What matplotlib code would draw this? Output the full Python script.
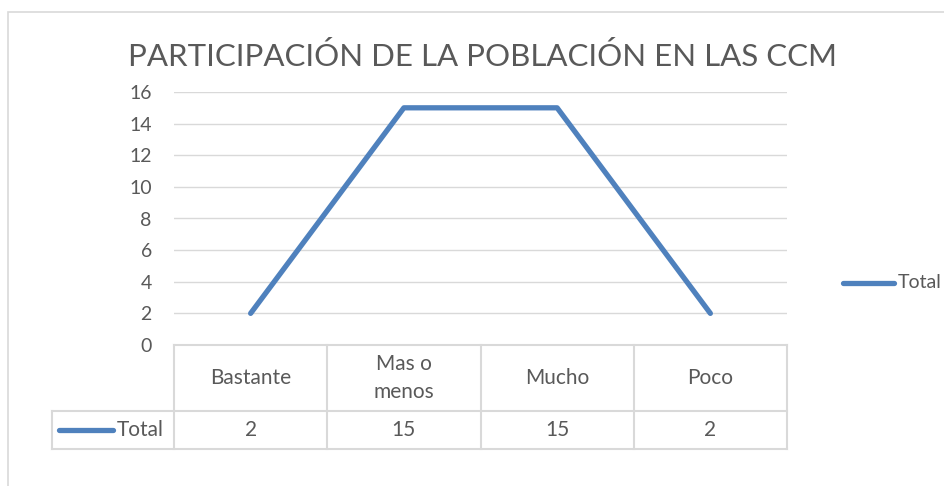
import numpy as np
import matplotlib.pyplot as plt
from matplotlib.lines import Line2D
from matplotlib.patches import Rectangle

# data
categories = ['Bastante', 'Mas o\nmenos', 'Mucho', 'Poco']
values = [2, 15, 15, 2]
series_name = 'Total'
title = 'PARTICIPACIÓN DE LA POBLACIÓN EN LAS CCM'
yticks = np.arange(0, 17, 2)

W, H = 945, 486
line_color = '#4F81BD'
grid_color = '#D9D9D9'
text_color = '#595959'
plt.rcParams['font.family'] = ['Lato', 'DejaVu Sans']

fig = plt.figure(figsize=(W / 100, H / 100), dpi=100)
fig.patch.set_facecolor('white')


def fx(x):
    return x / W


def fy(y):
    return 1 - y / H


# chart frame
fig.patches.append(Rectangle((fx(8), fy(490)), fx(960), 478 / H, transform=fig.transFigure,
                             fill=False, ec='#D9D9D9', lw=1.2))

# plot area
left, right, top, bottom = 174, 787, 92, 345
ax = fig.add_axes([fx(left), fy(bottom), fx(right - left), (bottom - top) / H])
x = np.arange(len(categories))
ax.plot(x, values, color=line_color, lw=3.8, solid_capstyle='round', solid_joinstyle='round')
ax.set_xlim(-0.5, len(categories) - 0.5)
ax.set_ylim(0, 16)
ax.set_yticks(yticks)
ax.set_xticks([])
ax.grid(axis='y', color=grid_color, lw=1)
ax.set_axisbelow(True)
for s in ax.spines.values():
    s.set_visible(False)
ax.tick_params(axis='y', length=0, pad=16, labelsize=14, labelcolor=text_color)

fig.text(0.511, fy(57), title, ha='center', va='center', fontsize=22.5, color=text_color)

# data table
col_w = (right - left) / len(categories)
row1_top, row1_bot, row2_bot = 345, 411, 449
tbl_kw = dict(transform=fig.transFigure, color=grid_color, lw=1.5)
fig.lines.append(Line2D([fx(left), fx(right)], [fy(row1_top)] * 2, **tbl_kw))
fig.lines.append(Line2D([fx(52), fx(right)], [fy(row1_bot)] * 2, **tbl_kw))
fig.lines.append(Line2D([fx(52), fx(right)], [fy(row2_bot)] * 2, **tbl_kw))
fig.lines.append(Line2D([fx(52), fx(52)], [fy(row1_bot), fy(row2_bot)], **tbl_kw))
for i in range(len(categories) + 1):
    xc = left + i * col_w
    fig.lines.append(Line2D([fx(xc), fx(xc)], [fy(row1_top), fy(row2_bot)], **tbl_kw))

for i, (cat, val) in enumerate(zip(categories, values)):
    xc = left + (i + 0.5) * col_w
    fig.text(fx(xc), fy((row1_top + row1_bot) / 2), cat, ha='center', va='center',
             fontsize=15, color=text_color, linespacing=1.45)
    fig.text(fx(xc), fy((row1_bot + row2_bot) / 2), str(val), ha='center', va='center',
             fontsize=15, color=text_color)

# legend key in table
fig.lines.append(Line2D([fx(59), fx(113)], [fy(430)] * 2, transform=fig.transFigure,
                        color=line_color, lw=3.8, solid_capstyle='round'))
fig.text(fx(117), fy(430), series_name, ha='left', va='center', fontsize=15, color=text_color)

# legend on the right
fig.lines.append(Line2D([fx(843), fx(894)], [fy(283)] * 2, transform=fig.transFigure,
                        color=line_color, lw=3.8, solid_capstyle='round'))
fig.text(fx(898), fy(283), series_name, ha='left', va='center', fontsize=14, color=text_color)

fig.savefig('out.png', dpi=100)
